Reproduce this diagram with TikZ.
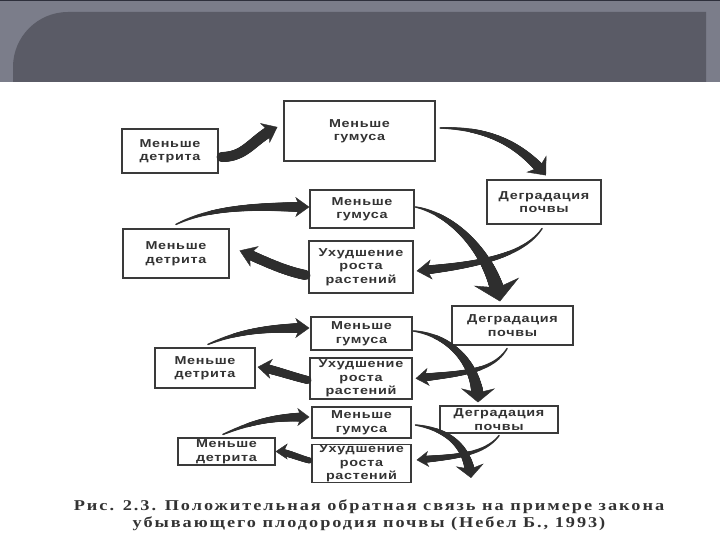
\documentclass[tikz,border=0pt]{standalone}
\usepackage{fontspec}
\usetikzlibrary{decorations.markings,arrows.meta}
\newfontfamily\boxfont[FakeStretch=1.25,LetterSpace=6]{Liberation Sans}
\newfontfamily\capfont[FakeStretch=1.22,LetterSpace=13]{Liberation Serif}
\definecolor{bandc}{HTML}{7B7D8A}
\definecolor{darkc}{HTML}{5A5B66}
\definecolor{topc}{HTML}{2E303C}
\definecolor{boxc}{HTML}{3A3A3A}
\definecolor{textc}{HTML}{333333}
\definecolor{arrowc}{HTML}{2E2E2E}
\tikzset{
  box/.style={draw=boxc, line width=1.1pt, fill=white, align=center, inner sep=0pt,
    font=\boxfont\bfseries\fontsize{11.5}{13.5}\selectfont, text=textc},
  fat/.style n args={4}{
    postaction={decorate, decoration={markings,
      mark=between positions 0 and 1 step 0.6pt with {
        \pgfmathsetmacro\tpd{\pgfkeysvalueof{/pgf/decoration/mark info/distance from start}}
        \pgfmathsetmacro\tpl{\pgfdecoratedpathlength-0.7*#3}
        \ifdim\tpd pt<\tpl pt
          \pgfmathsetmacro\tpr{#1+(#2-#1)*\tpd/\tpl}
          \fill[arrowc] (0pt,0pt) circle (\tpr pt);
        \fi
      }}},
    postaction={decorate, decoration={markings,
      mark=at position 0.9995 with {\arrow[arrowc]{Stealth[length=#3pt,width=#4pt,inset=0.3*#3pt]}}}}
  }
}
\newcommand\mybox[6]{\node[box, minimum width=#4pt, minimum height=#5pt] (#1) at (#2,#3) {#6};}
\begin{document}
\begin{tikzpicture}[x=1pt,y=-1pt]
\useasboundingbox (0,0) rectangle (720,540);
% header
\fill[bandc] (0,0) rectangle (720,82);
\fill[topc] (0,0) rectangle (720,1.5);
\fill[darkc] (13,82) -- (13,67) arc[start angle=180, end angle=270, radius=55] -- (706,12) -- (706,82) -- cycle;
% boxes
\mybox{g1}{359.5}{131}{151}{60}{Меньше\\гумуса}
\mybox{d1}{170}{151}{96}{44}{Меньше\\детрита}
\mybox{deg1}{544}{202}{114}{44}{Деградация\\почвы}
\mybox{g2}{362}{209}{104}{38}{Меньше\\гумуса}
\mybox{d2}{176}{253.5}{106}{49}{Меньше\\детрита}
\mybox{u2}{361}{267}{104}{52}{Ухудшение\\роста\\растений}
\mybox{deg3}{512.5}{325.5}{121}{39}{Деградация\\почвы}
\mybox{g3}{361.5}{333.5}{101}{33}{Меньше\\гумуса}
\mybox{d3}{205}{368}{100}{40}{Меньше\\детрита}
\mybox{u3}{361}{378.5}{102}{41}{Ухудшение\\роста\\растений}
\mybox{g4}{361.5}{422.5}{99}{31}{Меньше\\гумуса}
\mybox{deg4}{499}{419.5}{118}{27}{Деградация\\почвы}
\mybox{d4}{226.5}{451.5}{97}{27}{Меньше\\детрита}
\mybox{u4}{361.5}{463.5}{99}{37}{Ухудшение\\роста\\растений}
\coordinate (e12) at (471,478);
% arrows
\path[fat={5}{5.5}{14}{22}] ([xshift=3pt,yshift=-6pt]d1.east) .. controls +(25,0) and +(-25,12) .. ([xshift=-6pt,yshift=4pt]g1.west);
\path[fat={0.8}{5}{15}{26}] ([xshift=4.5pt,yshift=3pt]g1.east) .. controls +(50,0) and +(-25,-30) .. ([xshift=2pt,yshift=4pt]deg1.north);
\path[fat={0.8}{4.5}{15}{20}] ([xshift=-2pt,yshift=-4pt]deg1.south) .. controls +(-20,30) and +(50,-5) .. ([xshift=3pt,yshift=-4pt]u2.east);
\path[fat={0.8}{7}{20}{46}] ([xshift=1pt,yshift=2pt]g2.east) .. controls +(40,8) and +(-8,-45) .. ([xshift=-12.5pt,yshift=4pt]deg3.north);
\path[fat={5}{5}{16}{22}] ([xshift=-3pt,yshift=-8pt]u2.west) .. controls +(-25,-5) and +(20,8) .. ([xshift=10pt,yshift=3pt]d2.east);
\path[fat={0.8}{5}{14}{20}] ([yshift=4pt]d2.north) .. controls +(40,-20) and +(-40,0) .. ([yshift=2pt]g2.west);
\path[fat={0.8}{4}{13}{18}] ([xshift=-5.5pt,yshift=-3pt]deg3.south) .. controls +(-15,25) and +(40,-5) .. ([xshift=3pt]u3.east);
\path[fat={0.8}{6}{14}{34}] ([xshift=1pt,yshift=2.5pt]g3.east) .. controls +(40,5) and +(0,-35) .. ([xshift=-21pt,yshift=3pt]deg4.north);
\path[fat={4}{4.5}{14}{20}] ([xshift=-2pt,yshift=-1.5pt]u3.west) .. controls +(-20,-5) and +(15,2) .. ([xshift=2pt,yshift=1pt]d3.east);
\path[fat={0.8}{5}{14}{20}] ([xshift=3pt,yshift=3pt]d3.north) .. controls +(35,-15) and +(-35,0) .. ([xshift=-1pt,yshift=5.5pt]g3.west);
\path[fat={0.8}{3.5}{12}{16}] ([yshift=-2pt]deg4.south) .. controls +(-15,20) and +(35,-3) .. ([xshift=5pt,yshift=3.5pt]u4.east);
\path[fat={0.8}{5}{13}{28}] ([xshift=4pt,yshift=-2.5pt]g4.east) .. controls +(35,5) and +(-3,-30) .. (e12);
\path[fat={3}{3.5}{12}{16}] ([xshift=-2pt,yshift=3pt]u4.west) .. controls +(-12,-3) and +(10,0) .. (d4.east);
\path[fat={0.8}{4.5}{12}{18}] ([xshift=-3.5pt,yshift=3pt]d4.north) .. controls +(35,-15) and +(-30,0) .. ([xshift=-2pt,yshift=5.5pt]g4.west);
% caption
\node[font=\capfont\bfseries\fontsize{15}{16.5}\selectfont, text=textc, align=center] (cap) at (369,515)
  {Рис. 2.3. Положительная обратная связь на примере закона\\убывающего плодородия почвы (Небел Б., 1993)};
\end{tikzpicture}
\end{document}
